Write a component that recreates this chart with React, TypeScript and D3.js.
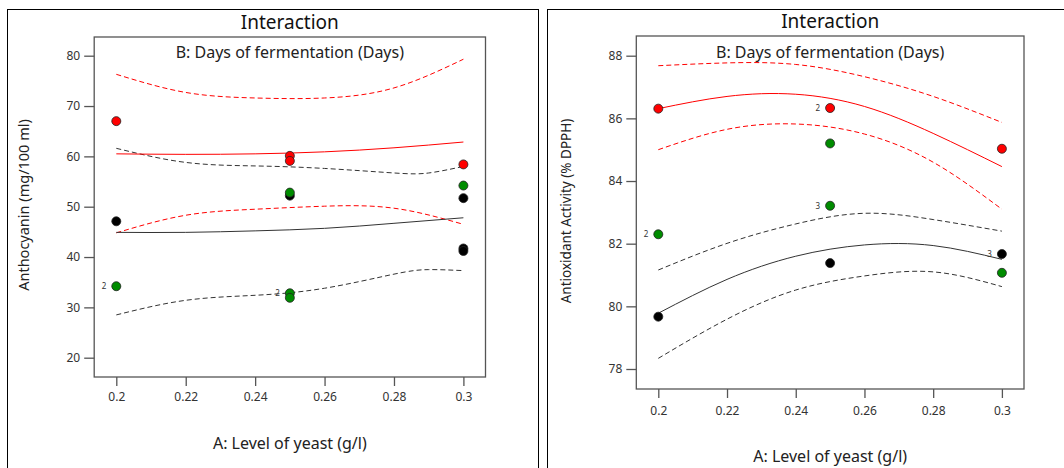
import React, { useEffect, useRef } from "react";
import * as d3 from "d3";

const xTicks = [0.2, 0.22, 0.24, 0.26, 0.28, 0.3];
const anthoTicks = [20, 30, 40, 50, 60, 70, 80];
const antioxTicks = [78, 80, 82, 84, 86, 88];

// Anthocyanin, observed points per level of B
const anthoHigh = [[0.2, 67.0], [0.25, 60.1], [0.25, 59.1], [0.3, 58.4]];
const anthoCenter = [[0.2, 34.2], [0.25, 52.8], [0.25, 32.8], [0.25, 31.9], [0.3, 54.2]];
const anthoLow = [[0.2, 47.1], [0.25, 52.2], [0.3, 51.7], [0.3, 41.7], [0.3, 41.2]];
const anthoCounts = [[0.2, 34.2, "2"], [0.25, 32.8, "2"]];

// Anthocyanin, fitted lines and confidence bands
const anthoHighFit = [[0.2, 60.5], [0.22, 60.4], [0.24, 60.5], [0.26, 60.9], [0.28, 61.7], [0.3, 62.85]];
const anthoHighUpper = [[0.2, 76.3], [0.22, 72.7], [0.24, 71.6], [0.26, 71.6], [0.28, 73.6], [0.3, 79.3]];
const anthoHighLower = [[0.2, 44.8], [0.22, 48.3], [0.24, 49.5], [0.26, 50.1], [0.28, 49.7], [0.3, 46.5]];
const anthoLowFit = [[0.2, 44.9], [0.22, 44.9], [0.24, 45.2], [0.26, 45.7], [0.28, 46.7], [0.3, 47.8]];
const anthoLowUpper = [[0.2, 61.6], [0.22, 58.8], [0.24, 58.1], [0.26, 57.6], [0.28, 56.7], [0.29, 56.7], [0.3, 58.0]];
const anthoLowLower = [[0.2, 28.5], [0.22, 31.4], [0.24, 32.4], [0.26, 33.8], [0.28, 36.6], [0.29, 37.5], [0.3, 37.3]];

// Antioxidant activity, observed points
const antioxHigh = [[0.2, 86.31], [0.25, 86.33], [0.3, 85.03]];
const antioxCenter = [[0.2, 82.3], [0.25, 85.2], [0.25, 83.21], [0.3, 81.07]];
const antioxLow = [[0.2, 79.67], [0.25, 81.38], [0.3, 81.67]];
const antioxCounts = [[0.25, 86.33, "2"], [0.2, 82.3, "2"], [0.25, 83.21, "3"], [0.3, 81.67, "3"]];

// Antioxidant activity, fitted lines and confidence bands
const antioxHighFit = [[0.2, 86.31], [0.22, 86.7], [0.24, 86.77], [0.26, 86.38], [0.28, 85.52], [0.3, 84.46]];
const antioxHighUpper = [[0.2, 87.68], [0.22, 87.77], [0.24, 87.72], [0.26, 87.33], [0.28, 86.7], [0.3, 85.87]];
const antioxHighLower = [[0.2, 85.0], [0.22, 85.65], [0.24, 85.82], [0.26, 85.5], [0.28, 84.6], [0.3, 83.1]];
const antioxLowFit = [[0.2, 79.78], [0.22, 80.86], [0.24, 81.6], [0.26, 81.96], [0.28, 81.94], [0.3, 81.5]];
const antioxLowUpper = [[0.2, 81.16], [0.22, 82.01], [0.24, 82.63], [0.26, 82.97], [0.28, 82.77], [0.3, 82.4]];
const antioxLowLower = [[0.2, 78.34], [0.22, 79.59], [0.24, 80.52], [0.26, 80.97], [0.28, 81.1], [0.3, 80.63]];

const FONT = "'Noto Sans', 'Open Sans', sans-serif";
const RED = "#ff0000";
const GREEN = "#008c00";
const BLACK = "#000000";

function drawPanel(svg, cfg) {
  const g = svg.append("g");
  const x = d3.scaleLinear().domain([0.2, 0.3]).range(cfg.xRange);
  const y = d3.scaleLinear().domain(cfg.yDomain).range(cfg.yRange);

  // outer panel frame
  g.append("rect")
    .attr("x", cfg.frame[0])
    .attr("y", 9.5)
    .attr("width", cfg.frame[1])
    .attr("height", 520)
    .attr("fill", "white")
    .attr("stroke", "#000")
    .attr("stroke-width", 1);

  g.append("rect")
    .attr("x", cfg.box[0])
    .attr("y", cfg.box[1])
    .attr("width", cfg.box[2] - cfg.box[0])
    .attr("height", cfg.box[3] - cfg.box[1])
    .attr("fill", "none")
    .attr("stroke", "#555")
    .attr("stroke-width", 1.3);

  const yAxis = g
    .append("g")
    .attr("transform", "translate(" + cfg.box[0] + ",0)")
    .call(d3.axisLeft(y).tickValues(cfg.yTicks).tickSize(10).tickPadding(4).tickFormat((d) => String(d)));
  const xAxis = g
    .append("g")
    .attr("transform", "translate(0," + cfg.box[3] + ")")
    .call(d3.axisBottom(x).tickValues(xTicks).tickSize(9).tickPadding(cfg.xPad).tickFormat((d) => String(d)));
  [yAxis, xAxis].forEach((a) => {
    a.select(".domain").remove();
    a.selectAll("line").attr("stroke", "#555").attr("stroke-width", 1.3);
    a.selectAll("text").attr("fill", "#333").style("font-family", FONT).style("font-size", "12px");
  });

  const line = d3
    .line()
    .x((d) => x(d[0]))
    .y((d) => y(d[1]))
    .curve(d3.curveNatural);

  cfg.lines.forEach((l) => {
    g.append("path")
      .attr("d", line(l.data))
      .attr("fill", "none")
      .attr("stroke", l.color)
      .attr("stroke-width", 1)
      .attr("stroke-dasharray", l.dashed ? "5,3" : null);
  });

  cfg.points.forEach((p) => {
    g.append("g")
      .selectAll("circle")
      .data(p.data)
      .enter()
      .append("circle")
      .attr("cx", (d) => x(d[0]))
      .attr("cy", (d) => y(d[1]))
      .attr("r", 4.5)
      .attr("fill", p.color)
      .attr("stroke", "#222")
      .attr("stroke-width", 0.8);
  });

  g.append("g")
    .selectAll("text")
    .data(cfg.counts)
    .enter()
    .append("text")
    .attr("x", (d) => x(d[0]) - 10)
    .attr("y", (d) => y(d[1]) + 3)
    .attr("text-anchor", "end")
    .attr("fill", "#333")
    .style("font-family", FONT)
    .style("font-size", "8px")
    .text((d) => d[2]);

  const cx = (cfg.box[0] + cfg.box[2]) / 2;
  g.append("text")
    .attr("x", cx)
    .attr("y", cfg.titleY)
    .attr("text-anchor", "middle")
    .attr("fill", "#111")
    .style("font-family", FONT)
    .style("font-size", "19px")
    .text("Interaction");
  g.append("text")
    .attr("x", cx)
    .attr("y", 58)
    .attr("text-anchor", "middle")
    .attr("fill", "#222")
    .style("font-family", FONT)
    .style("font-size", "16px")
    .text("B: Days of fermentation (Days)");
  g.append("text")
    .attr("x", cx)
    .attr("y", cfg.xTitleY)
    .attr("text-anchor", "middle")
    .attr("fill", "#222")
    .style("font-family", FONT)
    .style("font-size", "16px")
    .text("A: Level of yeast (g/l)");
  g.append("text")
    .attr("transform", "translate(" + cfg.yTitle[0] + "," + cfg.yTitle[1] + ") rotate(-90)")
    .attr("text-anchor", "middle")
    .attr("fill", "#222")
    .style("font-family", FONT)
    .style("font-size", cfg.yTitleSize)
    .text(cfg.yLabel);
}

function App() {
  const ref = useRef(null);

  useEffect(() => {
    document.body.style.margin = "0";
    const svg = d3.select(ref.current);
    svg.selectAll("*").remove();

    drawPanel(svg, {
      frame: [7.5, 531],
      box: [94.2, 37, 485.5, 377],
      xRange: [116.3, 463.4],
      yDomain: [20, 80],
      yRange: [357.7, 55.7],
      yTicks: anthoTicks,
      xPad: 6,
      titleY: 29,
      xTitleY: 449,
      yTitle: [29, 205],
      yTitleSize: "14.5px",
      yLabel: "Anthocyanin (mg/100 ml)",
      lines: [
        { data: anthoHighUpper, color: RED, dashed: true },
        { data: anthoHighLower, color: RED, dashed: true },
        { data: anthoLowUpper, color: "#333", dashed: true },
        { data: anthoLowLower, color: "#333", dashed: true },
        { data: anthoHighFit, color: RED, dashed: false },
        { data: anthoLowFit, color: "#333", dashed: false },
      ],
      points: [
        { data: anthoLow, color: BLACK },
        { data: anthoCenter, color: GREEN },
        { data: anthoHigh, color: RED },
      ],
      counts: anthoCounts,
    });

    drawPanel(svg, {
      frame: [547.5, 530],
      box: [636.3, 36, 1024, 389],
      xRange: [658.3, 1001.9],
      yDomain: [78, 88],
      yRange: [369, 55.7],
      yTicks: antioxTicks,
      xPad: 8,
      titleY: 28,
      xTitleY: 462,
      yTitle: [571, 211],
      yTitleSize: "13.5px",
      yLabel: "Antioxidant Activity (% DPPH)",
      lines: [
        { data: antioxHighUpper, color: RED, dashed: true },
        { data: antioxHighLower, color: RED, dashed: true },
        { data: antioxLowUpper, color: "#333", dashed: true },
        { data: antioxLowLower, color: "#333", dashed: true },
        { data: antioxHighFit, color: RED, dashed: false },
        { data: antioxLowFit, color: "#333", dashed: false },
      ],
      points: [
        { data: antioxLow, color: BLACK },
        { data: antioxCenter, color: GREEN },
        { data: antioxHigh, color: RED },
      ],
      counts: antioxCounts,
    });
  }, []);

  return <svg ref={ref} width={1064} height={468} style={{ display: "block", background: "white" }}></svg>;
}

export default App;
